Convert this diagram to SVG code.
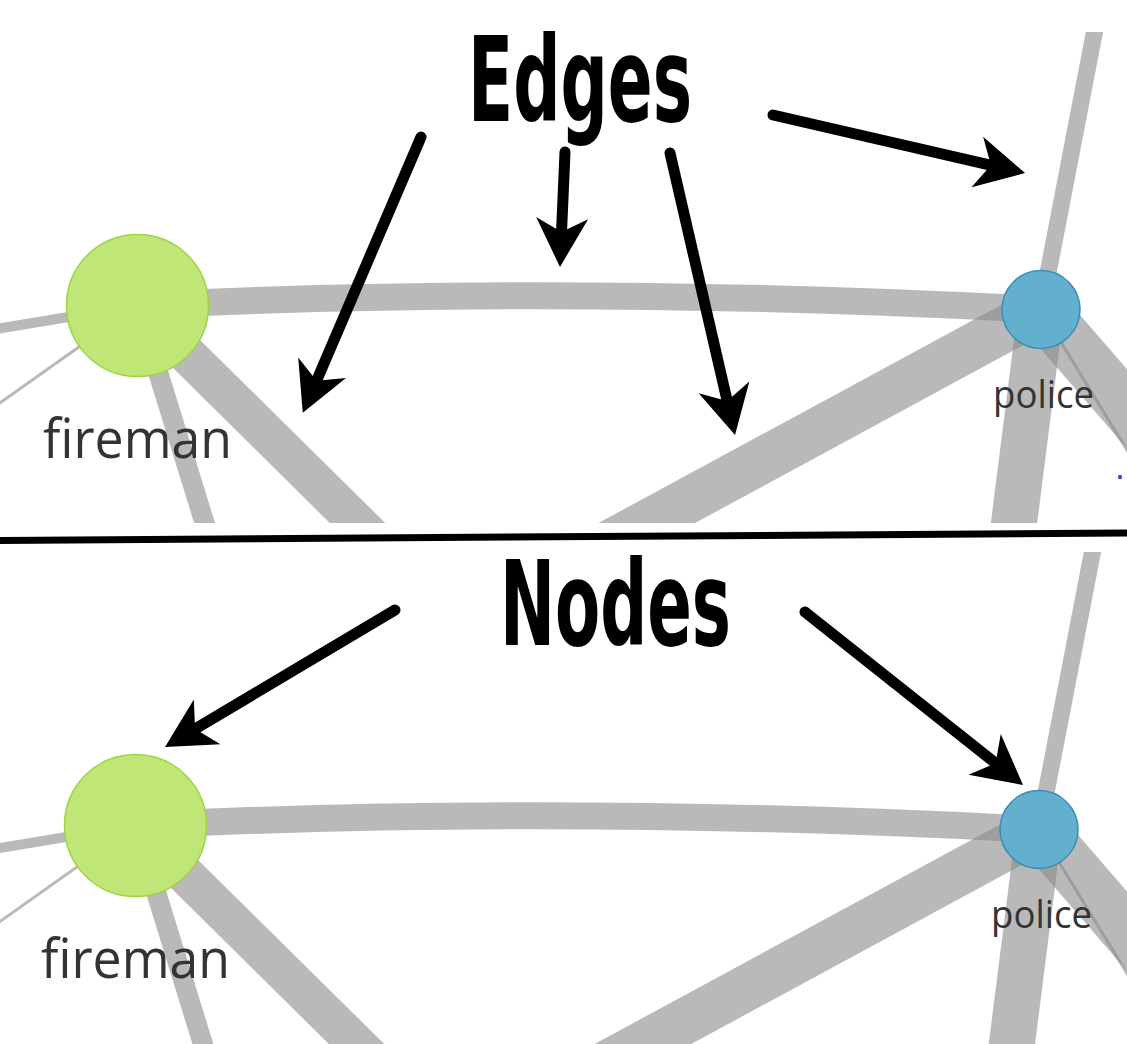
<svg xmlns="http://www.w3.org/2000/svg" width="1127" height="1044" viewBox="0 0 1127 1044">
<style>
.edge{fill:none;stroke:#8a8a8a;stroke-opacity:0.6;stroke-linecap:butt}
.arrow{fill:none;stroke:#000;stroke-width:11;stroke-linecap:round}
.fire{fill:#bfe676;stroke:#9fd444;stroke-width:1.5}
.pol{fill:#62b0ce;stroke:#3b8db2;stroke-width:1.5}
.lbl{font-family:"Open Sans","DejaVu Sans",sans-serif;fill:#333}
.title{font-family:"DejaVu Sans Condensed","DejaVu Sans","Liberation Sans",sans-serif;font-weight:bold;font-size:117px;fill:#000}
</style>
<defs>
<clipPath id="clipTop"><rect x="0" y="32" width="1127" height="491"/></clipPath>
<clipPath id="clipBot"><rect x="0" y="552" width="1127" height="492"/></clipPath>
<marker id="head" markerUnits="userSpaceOnUse" viewBox="-25 -30 60 60" markerWidth="60" markerHeight="60" refX="0" refY="0" orient="auto" overflow="visible">
<path d="M30,0 L-19,-26 L-5,0 L-19,26 Z" fill="#000"/>
</marker>
</defs>
<rect width="1127" height="1044" fill="#fff"/>

<g id="edges-top" clip-path="url(#clipTop)">
<path class="edge" stroke-width="27" d="M137.5,305.5 Q560,284 1041,309.5"/>
<path class="edge" stroke-width="10" d="M137.5,305.5 L-10,330"/>
<path class="edge" stroke-width="3" d="M137.5,305.5 L-10,410"/>
<path class="edge" stroke-width="20" d="M137.5,305.5 L216,560"/>
<path class="edge" stroke-width="39" d="M137.5,305.5 L400,565"/>
<path class="edge" stroke-width="46" d="M1041,309.5 L560,570"/>
<path class="edge" stroke-width="46" d="M1041,309.5 L1010,555"/>
<path class="edge" stroke-width="17" d="M1041,309.5 L1098.7,10"/>
<path class="edge" stroke-width="52" d="M1041,309.5 L1160,447"/>
<path class="edge" stroke-width="3" d="M1041,309.5 L1160,504"/>
</g>

<g id="edges-bottom" clip-path="url(#clipBot)">
<g transform="translate(-2,520)">
<path class="edge" stroke-width="27" d="M137.5,305.5 Q560,284 1041,309.5"/>
<path class="edge" stroke-width="10" d="M137.5,305.5 L-10,330"/>
<path class="edge" stroke-width="3" d="M137.5,305.5 L-10,410"/>
<path class="edge" stroke-width="20" d="M137.5,305.5 L216,560"/>
<path class="edge" stroke-width="39" d="M137.5,305.5 L400,565"/>
<path class="edge" stroke-width="46" d="M1041,309.5 L560,570"/>
<path class="edge" stroke-width="46" d="M1041,309.5 L1010,555"/>
<path class="edge" stroke-width="17" d="M1041,309.5 L1098.7,10"/>
<path class="edge" stroke-width="52" d="M1041,309.5 L1160,447"/>
<path class="edge" stroke-width="3" d="M1041,309.5 L1160,504"/>
</g>
</g>

<g id="node-fireman-top">
<circle class="fire" cx="137.5" cy="305.5" r="71"/>
<text class="lbl" x="43" y="458" font-size="55" textLength="189" lengthAdjust="spacingAndGlyphs">fireman</text>
</g>
<g id="node-police-top">
<circle class="pol" cx="1041" cy="309.5" r="39"/>
<text class="lbl" x="993" y="408" font-size="38" textLength="101" lengthAdjust="spacingAndGlyphs">police</text>
</g>
<g id="node-dot-top">
<circle cx="1120" cy="477" r="2.2" fill="#3a4fd0"/>
</g>
<g id="node-fireman-bottom">
<circle class="fire" cx="135.5" cy="825.5" r="71"/>
<text class="lbl" x="41" y="978" font-size="55" textLength="189" lengthAdjust="spacingAndGlyphs">fireman</text>
</g>
<g id="node-police-bottom">
<circle class="pol" cx="1039" cy="829.5" r="39"/>
<text class="lbl" x="991" y="928" font-size="38" textLength="101" lengthAdjust="spacingAndGlyphs">police</text>
</g>

<g id="divider">
<line x1="0" y1="540.5" x2="1127" y2="533" stroke="#000" stroke-width="7"/>
</g>

<g id="titles">
<text class="title" x="468" y="120.5" textLength="224" lengthAdjust="spacingAndGlyphs">Edges</text>
<text class="title" x="500" y="645" textLength="231" lengthAdjust="spacingAndGlyphs">Nodes</text>
</g>

<g id="arrows">
<line class="arrow" x1="421" y1="137" x2="314.6" y2="385.3" marker-end="url(#head)"/>
<line class="arrow" x1="565" y1="152" x2="561.3" y2="237" marker-end="url(#head)"/>
<line class="arrow" x1="670" y1="153" x2="728.3" y2="405.8" marker-end="url(#head)"/>
<line class="arrow" x1="773" y1="115" x2="995.8" y2="166.3" marker-end="url(#head)"/>
<line class="arrow" x1="395" y1="610" x2="190.8" y2="731.6" marker-end="url(#head)"/>
<line class="arrow" x1="805" y1="612" x2="999.5" y2="766.3" marker-end="url(#head)"/>
</g>
</svg>
